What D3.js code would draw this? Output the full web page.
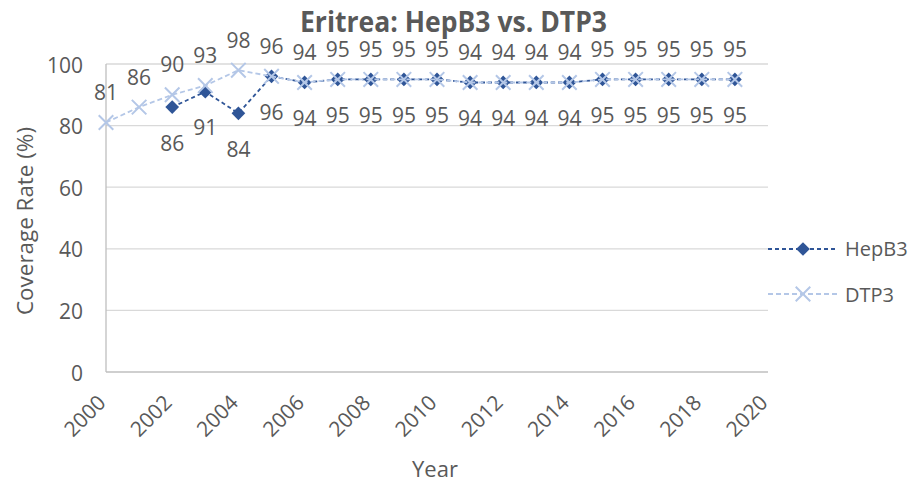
<!DOCTYPE html>
<html><head><meta charset="utf-8">
<script src="https://cdn.jsdelivr.net/npm/d3@7"></script>
<style>body{margin:0;background:#fff}svg{display:block}</style>
</head><body>
<svg id="c" width="914" height="483"></svg>
<script>
const hepYears = [2002,2003,2004,2005,2006,2007,2008,2009,2010,2011,2012,2013,2014,2015,2016,2017,2018,2019];
const hepValues = [86,91,84,96,94,95,95,95,95,94,94,94,94,95,95,95,95,95];
const dtpYears = [2000,2001,2002,2003,2004,2005,2006,2007,2008,2009,2010,2011,2012,2013,2014,2015,2016,2017,2018,2019];
const dtpValues = [81,86,90,93,98,96,94,95,95,95,95,94,94,94,94,95,95,95,95,95];
const xTicks = [2000,2002,2004,2006,2008,2010,2012,2014,2016,2018,2020];
const yTicks = [0,20,40,60,80,100];
const title = "Eritrea: HepB3 vs. DTP3";

const font = "'Open Sans', sans-serif";
const txt = "#595959";
const dark = "#2F5597", light = "#B4C7E7";
const fs = 21;
const svg = d3.select("#c");
const x = d3.scaleLinear().domain([2000,2020]).range([106,768]);
const y = d3.scaleLinear().domain([0,100]).range([372,64]);

// gridlines
svg.append("g").selectAll("line").data(yTicks.filter(d=>d>0)).join("line")
  .attr("x1",106).attr("x2",768).attr("y1",d=>y(d)).attr("y2",d=>y(d))
  .attr("stroke","#d9d9d9").attr("stroke-width",1.3);
// axes lines
svg.append("line").attr("x1",106).attr("x2",768).attr("y1",y(0)).attr("y2",y(0)).attr("stroke","#bfbfbf").attr("stroke-width",1.3);
svg.append("line").attr("x1",106).attr("x2",106).attr("y1",y(0)).attr("y2",y(100)).attr("stroke","#bfbfbf").attr("stroke-width",1.3);

// y tick labels
svg.append("g").selectAll("text").data(yTicks).join("text")
  .attr("x",83).attr("y",d=>y(d)+8.5).attr("text-anchor","end")
  .attr("font-family",font).attr("font-size",fs).attr("fill",txt).text(d=>d);
// x tick labels
svg.append("g").selectAll("text").data(xTicks).join("text")
  .attr("transform",d=>`translate(${x(d)+1},${y(0)+32}) rotate(-45)`)
  .attr("text-anchor","end")
  .attr("font-family",font).attr("font-size",fs).attr("fill",txt).text(d=>d);

// axis titles
svg.append("text")
  .attr("transform","translate(33,315) rotate(-90)")
  .attr("textLength",188).attr("lengthAdjust","spacingAndGlyphs")
  .attr("font-family",font).attr("font-size",21).attr("fill",txt).text("Coverage Rate (%)");
svg.append("text").attr("x",435).attr("y",477).attr("text-anchor","middle")
  .attr("font-family",font).attr("font-size",22).attr("fill",txt).text("Year");
svg.append("text").attr("x",300).attr("y",32)
  .attr("textLength",307).attr("lengthAdjust","spacingAndGlyphs")
  .attr("font-family",font).attr("font-size",28).attr("font-weight","bold").attr("fill",txt).text(title);

const line = d3.line().x(d=>x(d[0])).y(d=>y(d[1]));
const hep = hepYears.map((d,i)=>[d,hepValues[i]]);
const dtp = dtpYears.map((d,i)=>[d,dtpValues[i]]);

svg.append("path").datum(hep).attr("d",line).attr("fill","none").attr("stroke",dark).attr("stroke-width",1.8).attr("stroke-dasharray","4,3");
svg.append("g").selectAll("path").data(hep).join("path")
  .attr("transform",d=>`translate(${x(d[0])},${y(d[1])})`)
  .attr("d",d3.symbol(d3.symbolDiamond2,120)()).attr("fill",dark);

svg.append("path").datum(dtp).attr("d",line).attr("fill","none").attr("stroke",light).attr("stroke-width",1.8).attr("stroke-dasharray","5,3");
svg.append("g").selectAll("path").data(dtp).join("path")
  .attr("transform",d=>`translate(${x(d[0])},${y(d[1])})`)
  .attr("d",d3.symbol(d3.symbolX,140)()).attr("stroke",light).attr("stroke-width",2).attr("fill","none");

// data labels
svg.append("g").selectAll("text").data(dtp).join("text")
  .attr("x",d=>x(d[0])).attr("y",d=>y(d[1])-22.5).attr("text-anchor","middle")
  .attr("font-family",font).attr("font-size",fs).attr("fill",txt).text(d=>d[1]);
svg.append("g").selectAll("text").data(hep).join("text")
  .attr("x",d=>x(d[0])).attr("y",d=>y(d[1])+43.5).attr("text-anchor","middle")
  .attr("font-family",font).attr("font-size",fs).attr("fill",txt).text(d=>d[1]);

// legend
const lg = svg.append("g");
lg.append("line").attr("x1",768).attr("x2",838).attr("y1",249).attr("y2",249).attr("stroke",dark).attr("stroke-width",1.8).attr("stroke-dasharray","4,3");
lg.append("path").attr("transform","translate(803,249)").attr("d",d3.symbol(d3.symbolDiamond2,120)()).attr("fill",dark);
lg.append("text").attr("x",845).attr("y",256).attr("font-family",font).attr("font-size",20).attr("fill",txt).text("HepB3");
lg.append("line").attr("x1",768).attr("x2",838).attr("y1",294).attr("y2",294).attr("stroke",light).attr("stroke-width",1.8).attr("stroke-dasharray","5,3");
lg.append("path").attr("transform","translate(803,294)").attr("d",d3.symbol(d3.symbolX,140)()).attr("stroke",light).attr("stroke-width",2).attr("fill","none");
lg.append("text").attr("x",845).attr("y",301.5).attr("font-family",font).attr("font-size",20).attr("fill",txt).text("DTP3");
</script>
</body></html>
